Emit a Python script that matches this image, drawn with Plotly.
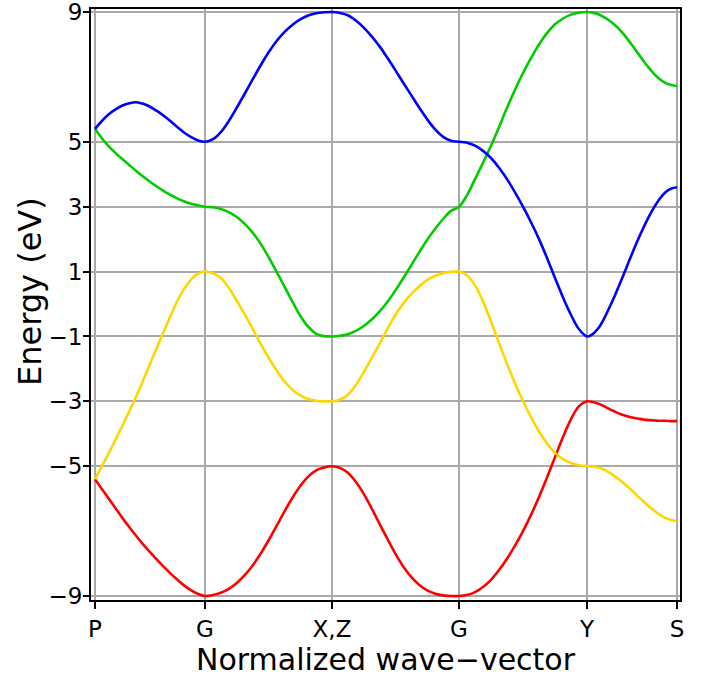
import plotly.graph_objects as go

# ---------------- data ----------------
kpoint_labels = ["P", "G", "X,Z", "G", "Y", "S"]
kpoint_pos = [0.0, 0.1890, 0.4072, 0.6254, 0.8454, 1.0]
# fractional sample positions inside each path segment (1/16 steps)
seg_frac = [i / 16 for i in range(17)]

energy_ticks = [9, 5, 3, 1, -1, -3, -5, -9]
energy_labels = ["9", "5", "3", "1", "\u22121", "\u22123", "\u22125", "\u22129"]

band_blue = [
    [5.4, 5.64, 5.85, 6.0, 6.12, 6.19, 6.22, 6.17, 6.08, 5.95, 5.8, 5.63, 5.45, 5.28, 5.14, 5.04, 5.0],
    [5.0, 5.08, 5.3, 5.64, 6.05, 6.48, 6.92, 7.35, 7.75, 8.1, 8.38, 8.6, 8.77, 8.89, 8.96, 8.99, 9.0],
    [9.0, 8.97, 8.9, 8.74, 8.52, 8.25, 7.94, 7.58, 7.2, 6.81, 6.43, 6.05, 5.69, 5.38, 5.15, 5.03, 5.0],
    [5.0, 4.97, 4.88, 4.72, 4.5, 4.2, 3.85, 3.44, 3.0, 2.52, 2.0, 1.42, 0.8, 0.2, -0.34, -0.78, -1.0],
    [-1.0, -0.93, -0.75, -0.46, -0.1, 0.28, 0.69, 1.12, 1.55, 1.96, 2.34, 2.69, 3.0, 3.26, 3.45, 3.56, 3.6],
]
band_green = [
    [5.4, 5.11, 4.86, 4.65, 4.46, 4.28, 4.1, 3.93, 3.77, 3.62, 3.48, 3.36, 3.25, 3.16, 3.09, 3.04, 3.0],
    [3.0, 2.98, 2.93, 2.83, 2.68, 2.47, 2.2, 1.86, 1.45, 1.0, 0.54, 0.08, -0.36, -0.7, -0.92, -0.99, -1.0],
    [-1.0, -0.98, -0.93, -0.83, -0.68, -0.48, -0.23, 0.07, 0.42, 0.8, 1.2, 1.6, 1.98, 2.32, 2.62, 2.87, 3.0],
    [3.0, 3.35, 3.85, 4.35, 4.88, 5.45, 6.05, 6.6, 7.12, 7.58, 8.0, 8.35, 8.62, 8.8, 8.92, 8.98, 9.0],
    [9.0, 8.98, 8.93, 8.84, 8.73, 8.59, 8.42, 8.21, 7.98, 7.74, 7.5, 7.28, 7.08, 6.92, 6.81, 6.75, 6.72],
]
band_yellow = [
    [-5.4, -5.0, -4.6, -4.18, -3.75, -3.3, -2.85, -2.36, -1.85, -1.35, -0.85, -0.36, 0.1, 0.48, 0.76, 0.94, 1.0],
    [1.0, 0.95, 0.8, 0.5, 0.1, -0.32, -0.76, -1.22, -1.65, -2.04, -2.38, -2.64, -2.82, -2.93, -2.98, -3.0, -3.0],
    [-3.0, -2.95, -2.8, -2.5, -2.1, -1.67, -1.22, -0.76, -0.33, 0.02, 0.31, 0.55, 0.74, 0.87, 0.95, 0.99, 1.0],
    [1.0, 0.88, 0.58, 0.08, -0.54, -1.2, -1.84, -2.44, -2.99, -3.49, -3.93, -4.3, -4.59, -4.78, -4.9, -4.97, -5.0],
    [-5.0, -5.01, -5.04, -5.1, -5.2, -5.32, -5.45, -5.6, -5.75, -5.92, -6.08, -6.24, -6.38, -6.5, -6.6, -6.66, -6.69],
]
band_red = [
    [-5.4, -5.7, -6.0, -6.3, -6.6, -6.88, -7.15, -7.41, -7.65, -7.88, -8.1, -8.31, -8.5, -8.68, -8.83, -8.94, -9.0],
    [-9.0, -8.97, -8.9, -8.78, -8.6, -8.36, -8.06, -7.7, -7.29, -6.85, -6.4, -5.98, -5.61, -5.32, -5.13, -5.04, -5.0],
    [-5.0, -5.05, -5.2, -5.48, -5.85, -6.3, -6.78, -7.25, -7.7, -8.1, -8.42, -8.66, -8.83, -8.93, -8.98, -9.0, -9.0],
    [-9.0, -8.97, -8.88, -8.72, -8.5, -8.2, -7.85, -7.45, -7.0, -6.5, -5.95, -5.35, -4.72, -4.1, -3.55, -3.15, -3.0],
    [-3.0, -3.02, -3.07, -3.15, -3.24, -3.32, -3.4, -3.45, -3.5, -3.53, -3.56, -3.58, -3.59, -3.6, -3.6, -3.61, -3.61],
]

bands = [
    ("red", band_red, "#ff0000"),
    ("yellow", band_yellow, "#ffd700"),
    ("green", band_green, "#00cc00"),
    ("blue", band_blue, "#0000ff"),
]


def path_xy(segments):
    xs, ys = [], []
    for i, seg in enumerate(segments):
        k0, k1 = kpoint_pos[i], kpoint_pos[i + 1]
        for j, (f, e) in enumerate(zip(seg_frac, seg)):
            if i > 0 and j == 0:
                continue
            xs.append(k0 + f * (k1 - k0))
            ys.append(e)
    return xs, ys


fig = go.Figure()
for name, segs, col in bands:
    x, y = path_xy(segs)
    fig.add_trace(go.Scatter(x=x, y=y, mode="lines", name=name,
                             line=dict(color=col, width=2.6, shape="spline", smoothing=1.0),
                             showlegend=False, hoverinfo="skip"))

FONT = "DejaVu Sans"
W, H = 707, 677
ml, mr, mt, mb = 91, 27, 9, 77
px_w = 582.0
px_h = 584.0 / 18.0
plot_h = H - mt - mb

fig.update_layout(
    width=W, height=H,
    margin=dict(l=ml, r=mr, t=mt, b=mb, pad=0, autoexpand=False),
    paper_bgcolor="white", plot_bgcolor="white",
    font=dict(family=FONT, color="black"),
    xaxis=dict(
        range=[0 - 4 / px_w, 1 + 3 / px_w],
        tickvals=kpoint_pos, ticktext=kpoint_labels,
        showgrid=True, gridcolor="#a9a9a9", gridwidth=1.5,
        zeroline=False, automargin=False, ticklabeloverflow="allow",
        showline=True, linecolor="black", linewidth=2, mirror=True,
        ticks="outside", ticklen=7, tickwidth=2, tickcolor="black",
        tickfont=dict(size=23, family=FONT, color="black"),
        title=dict(text="Normalized wave\u2212vector", font=dict(size=30, family=FONT, color="black"), standoff=6),
    ),
    yaxis=dict(
        range=[-9 - 4 / px_h, 9 + 3 / px_h],
        tickvals=energy_ticks, ticktext=energy_labels,
        showgrid=True, gridcolor="#a9a9a9", gridwidth=1.5,
        zeroline=False, automargin=False, ticklabeloverflow="allow",
        showline=True, linecolor="black", linewidth=2, mirror=True,
        ticks="outside", ticklen=6, tickwidth=2, tickcolor="black",
        ticklabelstandoff=-4,
        tickfont=dict(size=23, family=FONT, color="black"),
    ),
    annotations=[dict(
        text="Energy (eV)", textangle=-90, showarrow=False,
        xref="paper", yref="paper",
        x=(30 - ml) / (W - ml - mr), y=(H - mb - 292) / plot_h,
        xanchor="center", yanchor="middle",
        font=dict(size=32, family=FONT, color="black"),
    )],
)

fig.write_html("out.html")
